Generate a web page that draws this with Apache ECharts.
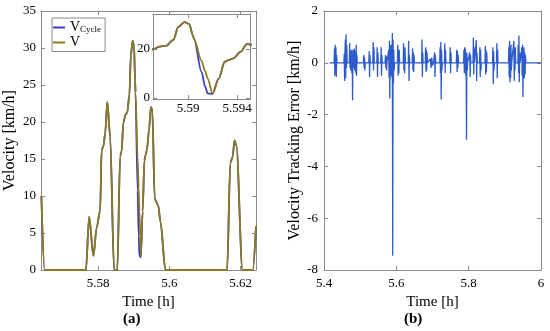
<!DOCTYPE html>
<html><head><meta charset="utf-8">
<script src="https://cdn.jsdelivr.net/npm/echarts@6/dist/echarts.min.js"></script>
<style>html,body{margin:0;padding:0;background:#fff}#c{width:550px;height:331px}</style>
</head><body><div id="c"></div>
<script>
// ---- data (a): velocity vs time ----
const timeH = [5.5641,5.5650,5.5766,5.5775,5.5787,5.5796,5.5806,5.5810,5.5815,5.5820,5.5826,5.5834,5.5845,5.5854,5.5862,5.5866,5.5871,5.5877,5.5882,5.5888,5.5892,5.5897,5.5901,5.5904,5.5905,5.5911,5.5914,5.5916,5.5920,5.5925,5.5930,5.5933,5.5937,5.5943,5.5948,5.5952,5.5959,5.5969,5.5975,5.5989,5.6162,5.6171,5.6177,5.6183,5.6188,5.6205,5.6234,5.6243];
const vActual = [10,0,0,7.2,1.9,5.7,8.1,16.2,16.7,18.5,22.7,18,0,0,15.4,16,19.9,21,21.3,23.7,29,31,30.2,25.5,24,15.2,11,8,1.9,7.9,14.8,15.5,16.2,18.9,22,21.8,9.6,8.7,6.5,0,0,14.5,15.2,17.5,16.8,0,0,5.9];
const vCycle  = [10,0,0,7.2,1.9,5.7,8.1,16.2,16.7,18.5,22.7,18,0,0,15.4,16,19.9,21,21.3,23.7,29,31,30.2,25.5,24,10.7,4.6,1.9,1.7,7.9,14.8,15.5,16.2,18.9,22,21.8,9.6,8.7,6.5,0,0,14.5,15.2,17.5,16.8,0,0,5.9];
const velTicks = [0,5,10,15,20,25,30,35];
const timeTicksA = [5.58,5.6,5.62];
const insetTimeTicks = [5.59,5.594];
const insetVelTicks = [0,20];

// ---- data (b): tracking error vs time ----
const errTime = [5.415,5.428,5.429,5.430,5.431,5.432,5.433,5.434,5.435,5.436,
5.455,5.456,5.457,5.458,5.459,5.460,5.461,5.462,5.463,5.464,
5.470,5.471,5.472,5.473,5.474,5.476,5.477,5.478,5.479,5.480,5.482,5.484,5.485,5.487,5.488,5.489,5.490,5.491,5.492,
5.509,5.510,5.511,5.512,5.513,5.514,
5.524,5.525,5.526,5.527,5.528,
5.535,5.536,5.537,5.538,5.539,
5.546,5.547,5.548,5.549,5.550,
5.557,5.558,5.559,5.560,5.561,
5.569,5.570,5.571,5.572,5.573,5.574,
5.578,5.579,5.580,5.581,5.582,5.583,5.584,5.585,5.586,5.587,5.588,5.589,5.590,5.591,5.592,5.593,5.594,5.595,
5.603,5.604,5.605,5.606,5.607,5.608,5.609,
5.619,5.620,5.621,5.622,5.623,5.624,5.625,
5.633,5.634,5.635,5.636,5.637,
5.644,5.645,5.646,5.647,5.648,5.649,5.650,
5.670,5.671,5.672,5.673,5.674,
5.680,5.681,5.682,5.683,5.684,5.685,5.686,
5.694,5.696,5.698,5.700,5.703,5.706,5.707,5.708,5.709,
5.720,5.721,5.722,5.723,5.724,5.725,5.726,5.727,
5.733,5.734,5.735,5.736,5.737,
5.748,5.749,5.750,5.751,5.752,
5.766,5.767,5.768,5.769,5.770,5.771,5.772,
5.786,5.787,5.788,5.789,5.790,5.791,5.792,5.793,5.794,5.795,5.796,5.797,
5.802,5.803,5.804,5.805,5.806,
5.812,5.813,5.814,5.815,5.816,
5.820,5.821,5.822,5.823,5.824,
5.830,5.831,5.832,5.833,5.834,5.835,
5.845,5.846,5.847,5.848,5.849,5.850,5.851,
5.866,5.867,5.868,5.869,5.870,5.871,
5.877,5.878,5.879,5.880,5.881,
5.910,5.911,5.912,5.913,5.914,5.915,5.916,5.917,5.918,5.919,
5.924,5.925,5.926,5.927,5.928,5.929,5.930,
5.936,5.937,5.938,5.939,5.940,5.941,5.942,
5.946,5.947,5.948,5.949,5.950,5.951,5.952,5.953,5.954,5.955,5.956,5.957,5.958,
6.0];
const errValue = [0,0,0.55,-0.5,0.7,-0.3,0.6,-0.55,0.3,0,
0,0.35,-0.7,0.4,0.9,-0.6,1.1,-0.2,0.7,0,
0,0.75,-0.2,0.45,-0.3,0.5,-0.4,0.3,-1.45,0.5,-0.2,0.55,-0.3,0.45,-0.4,0.7,-0.5,0.3,0,
0,0.3,-0.2,0.2,-0.3,0,
0,0.45,-0.55,0.3,0,
0,0.8,-0.3,0.6,0,
0,0.6,-0.55,0.4,0,
0,0.6,-0.5,0.3,0,
0,0.3,-0.2,0.25,-0.3,0,
0,0.5,-0.6,0.85,-1.38,0.6,-0.3,0.7,-0.5,0.4,-0.6,1.15,-7.45,0.9,-0.8,0.5,-0.3,0,
0,0.7,-0.5,0.4,-0.4,0.5,0,
0,0.75,-0.3,0.5,-0.4,0.6,0,
0,0.85,-0.7,0.3,0,
0,0.55,-0.3,0.4,-0.35,0.3,0,
0,0.9,-0.55,0.4,0,
0,0.6,-0.35,0.5,-0.3,0.4,0,
0.15,-0.2,0.2,-0.1,0,0.4,-0.55,0.3,0,
0,0.6,-0.4,0.8,-1.42,0.5,-0.3,0,
0,0.75,-0.4,0.5,0,
0,0.6,-0.4,0.4,0,
0,0.5,-0.35,0.45,-0.2,0.3,0,
0,0.5,-0.4,0.6,-0.3,0.55,-0.5,0.3,-2.97,0.4,-0.3,0,
0,0.4,-0.55,0.3,0,
0,0.98,-0.45,0.6,0,
0,0.88,-0.7,0.4,0,
0,0.6,-0.55,0.5,-0.3,0,
0,0.65,-0.45,0.5,-0.35,0.4,0,
0,0.6,-0.83,0.45,-0.3,0,
0,0.75,-0.6,0.5,0,
0,0.6,-0.55,0.85,-0.75,0.5,-0.6,0.7,-0.3,0,
0,0.85,-0.7,0.55,-0.3,0.6,0,
0,0.7,-0.4,1.05,-0.75,0.4,0,
0,0.6,-0.5,0.7,-1.32,0.5,-0.4,0.6,-0.6,0.4,-0.45,0.3,0,
0];
const errTicks = [-8,-6,-4,-2,0,2];
const timeTicksB = [5.4,5.6,5.8,6];

const FONT = 'Liberation Serif';
const TXT = '#000';
const AX = '#8a8a8a';
const BLUE = '#3a3ccc';
const OLIVE = '#8c7a1e';
const ERRBLUE = '#2d5bcc';

const pairs = (xs, ys) => xs.map((x, i) => [x, ys[i]]);

function xAx(grid, min, max, ticks, pos, labelMargin, name, nameGap, z) {
  const show = pos === 'bottom';
  return {
    type: 'value', gridIndex: grid, position: pos, min, max, z: z || 0,
    name: show ? name : '', nameLocation: 'middle', nameGap,
    nameTextStyle: { fontFamily: FONT, fontSize: 15, color: TXT },
    splitLine: { show: false },
    axisLine: { show: true, onZero: false, lineStyle: { color: AX, width: 1 } },
    axisTick: { show: true, inside: true, length: 4, customValues: ticks, lineStyle: { color: AX } },
    axisLabel: { show: show, customValues: ticks, margin: labelMargin, fontFamily: FONT, fontSize: 13, color: TXT,
      formatter: v => String(+v.toFixed(4)) }
  };
}
function yAx(grid, min, max, ticks, pos, labelMargin, name, nameGap, z) {
  const show = pos === 'left';
  return {
    type: 'value', gridIndex: grid, position: pos, min, max, z: z || 0,
    name: show ? name : '', nameLocation: 'middle', nameGap, nameRotate: 90,
    nameTextStyle: { fontFamily: FONT, fontSize: 16, color: TXT },
    splitLine: { show: false },
    axisLine: { show: true, onZero: false, lineStyle: { color: AX, width: 1 } },
    axisTick: { show: true, inside: true, length: 4, customValues: ticks, lineStyle: { color: AX } },
    axisLabel: { show: show, customValues: ticks, margin: labelMargin, fontFamily: FONT, fontSize: 13, color: TXT }
  };
}

const velLine = (name, xi, ys, color, z) => ({
  name, type: 'line', xAxisIndex: xi, yAxisIndex: xi, data: pairs(timeH, ys), showSymbol: false,
  smooth: 0.3, smoothMonotone: 'x', z: z || 2,
  lineStyle: { color, width: 1.8 }, itemStyle: { color }
});

const chart = echarts.init(document.getElementById('c'), null, { renderer: 'canvas' });
chart.setOption({
  animation: false,
  backgroundColor: '#fff',
  grid: [
    { left: 41, top: 11, width: 215, height: 259 },
    { left: 324, top: 11, width: 217, height: 259 },
    { left: 153, top: 14, width: 97, height: 85, show: true, backgroundColor: '#fff', borderWidth: 0, z: 5 }
  ],
  xAxis: [
    xAx(0, 5.564, 5.6243, timeTicksA, 'bottom', 7, 'Time [h]', 22),
    xAx(0, 5.564, 5.6243, timeTicksA, 'top', 7, '', 0),
    xAx(1, 5.4, 6, timeTicksB, 'bottom', 7, 'Time [h]', 22),
    xAx(1, 5.4, 6, timeTicksB, 'top', 7, '', 0),
    xAx(2, 5.58714, 5.59506, insetTimeTicks, 'bottom', 3, '', 0, 6),
    xAx(2, 5.58714, 5.59506, insetTimeTicks, 'top', 3, '', 0, 6)
  ],
  yAxis: [
    yAx(0, 0, 35, velTicks, 'left', 5, 'Velocity [km/h]', 23),
    yAx(0, 0, 35, velTicks, 'right', 5, '', 0),
    yAx(1, -8, 2, errTicks, 'left', 6, 'Velocity Tracking Error [km/h]', 20),
    yAx(1, -8, 2, errTicks, 'right', 6, '', 0),
    yAx(2, -0.4, 34.3, insetVelTicks, 'left', 3, '', 0, 6),
    yAx(2, -0.4, 34.3, insetVelTicks, 'right', 3, '', 0, 6)
  ],
  legend: {
    orient: 'vertical', left: 52, top: 18, itemGap: 1, itemWidth: 12, itemHeight: 2,
    padding: [2, 4, 2, 1], borderColor: '#8a8a8a', borderWidth: 1, backgroundColor: '#fff',
    data: [{ name: 'VCycle', icon: 'rect' }, { name: 'V', icon: 'rect' }],
    textStyle: {
      fontFamily: FONT, fontSize: 14, color: TXT,
      rich: {
        m: { fontFamily: FONT, fontSize: 14, color: TXT, lineHeight: 13 },
        s: { fontFamily: FONT, fontSize: 9, color: TXT, lineHeight: 13, verticalAlign: 'bottom', padding: [5, 0, 0, 0] }
      }
    },
    formatter: n => n === 'VCycle' ? '{m|V}{s|Cycle}' : '{m|V}'
  },
  series: [
    velLine('VCycle', 0, vCycle, BLUE),
    velLine('V', 0, vActual, OLIVE),
    { name: 'err', type: 'line', xAxisIndex: 2, yAxisIndex: 2, data: pairs(errTime, errValue), showSymbol: false,
      lineStyle: { color: ERRBLUE, width: 1.3 }, itemStyle: { color: ERRBLUE } },
    velLine('VCycle', 4, vCycle, BLUE, 7),
    velLine('V', 4, vActual, OLIVE, 7)
  ],
  graphic: [
    { type: 'text', left: 123, top: 312, style: { text: '(a)', font: 'bold 15px "Liberation Serif"', fill: TXT } },
    { type: 'text', left: 404, top: 312, style: { text: '(b)', font: 'bold 15px "Liberation Serif"', fill: TXT } }
  ]
});
</script>
</body></html>
